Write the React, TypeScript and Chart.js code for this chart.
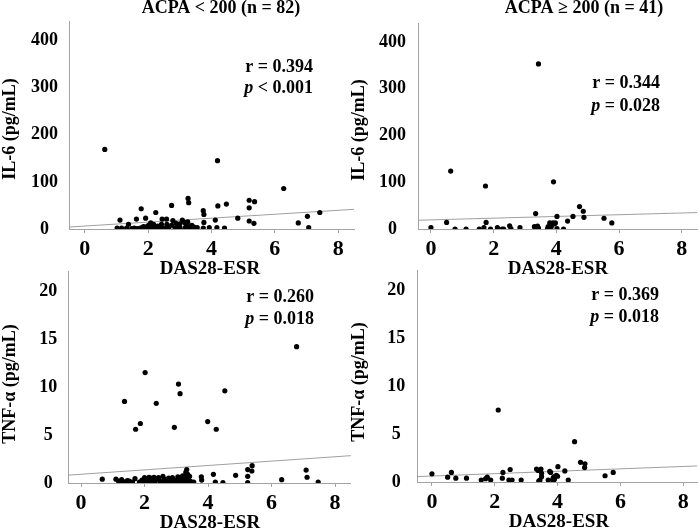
import React, { useEffect, useRef } from "react";
import { Chart, registerables } from "chart.js";

Chart.register(...registerables);

type Pt = [number, number];

// ---- tick labels ----
const xTicks = [0, 2, 4, 6, 8];
const il6Ticks = [0, 100, 200, 300, 400];
const tnfTicks = [0, 5, 10, 15, 20];

// ---- ACPA < 200 (n = 82): DAS28-ESR vs IL-6 ----
const lowIL6: Pt[] = [
  [0.63, 169], [4.19, 145], [6.28, 86], [3.26, 65], [3.28, 56], [2.74, 50], [4.2, 49], [4.47, 53],
  [5.19, 61], [5.36, 58], [5.19, 45], [1.78, 43], [2.24, 35], [3.74, 39], [3.76, 31], [4.83, 23],
  [7.42, 35], [7.03, 27], [6.74, 13], [7.07, 3], [5.19, 17], [5.34, 12], [4.12, 19], [3.76, 14],
  [1.11, 19], [1.38, 10], [1.63, 21], [1.92, 23], [2.44, 21], [2.58, 21], [2.78, 18], [2.88, 12],
  [3.08, 19], [3.15, 14], [3.0, 11], [2.95, 8], [2.74, 8], [2.08, 13], [2.13, 10], [2.17, 10],
  [2.01, 8], [1.97, 5], [1.92, 4], [1.85, 5], [2.42, 10], [2.59, 10],
  [1.02, 2], [1.16, 2], [1.32, 2], [1.48, 1], [1.56, 2], [1.65, 1], [1.79, 2], [1.92, 1],
  [2.16, 2], [2.27, 1], [2.35, 2], [2.42, 1], [2.48, 2], [2.55, 1], [2.85, 2], [2.95, 1],
  [3.16, 2], [3.32, 1], [3.44, 2], [3.51, 1], [3.74, 2], [3.93, 3], [4.17, 3], [4.41, 2],
  [3.3, 5], [3.38, 8], [3.45, 4], [3.25, 15], [1.75, 2], [2.05, 3], [2.22, 2], [3.0, 3],
  [3.2, 6], [2.65, 2], [2.3, 6], [3.55, 3],
];

// ---- ACPA >= 200 (n = 41): DAS28-ESR vs IL-6 ----
const highIL6: Pt[] = [
  [3.43, 353], [0.63, 124], [1.74, 92], [3.91, 101], [3.34, 33], [4.74, 48], [4.86, 38], [4.53, 27],
  [4.88, 25], [4.02, 27], [4.36, 17], [5.52, 23], [5.77, 13], [0.5, 14], [1.76, 14], [0.77, 0],
  [1.12, 0], [1.54, 0], [1.69, 3], [1.9, 0], [2.12, 3], [2.27, 0], [2.32, 0], [2.51, 7],
  [2.55, 1], [2.84, 3], [3.3, 5], [3.33, 1], [3.36, 0], [3.4, 6], [3.43, 2], [3.72, 1],
  [3.74, 5], [3.79, 13], [3.84, 5], [3.89, 13], [3.94, 11], [3.97, 13], [4.02, 1], [4.23, 0],
  [0, 3],
];

// ---- ACPA < 200 (n = 82): DAS28-ESR vs TNF-α ----
const lowTNF: Pt[] = [
  [6.79, 14.2], [2.02, 11.5], [3.07, 10.3], [3.12, 9.3], [4.53, 9.6], [1.37, 8.5], [2.37, 8.3],
  [3.99, 6.4], [1.87, 6.2], [1.72, 5.6], [2.94, 5.8], [4.26, 5.6],
  [0.67, 0.4], [3.33, 1.4], [3.3, 1.1], [3.36, 0.9], [3.42, 0.7], [4.17, 0.9], [4.87, 0.8],
  [5.39, 1.8], [5.25, 1.4], [5.38, 1.25], [5.25, 0.7], [5.25, 0.05], [6.32, 0.35], [7.09, 1.35],
  [7.12, 0.6], [7.47, 0.1], [4.23, 0.1], [4.47, 0.05], [3.79, 0.65], [3.8, 0.3], [3.55, 0.1],
  [1.1, 0.4], [1.18, 0.2], [1.25, 0.1], [1.33, 0.15], [1.42, 0.1], [1.52, 0.2], [1.62, 0.1],
  [1.7, 0.45], [1.84, 0.1], [1.92, 0.3], [1.96, 0.1], [2.02, 0.4], [2.07, 0.2], [2.12, 0.1],
  [2.17, 0.35], [2.21, 0.5], [2.26, 0.2], [2.33, 0.1], [2.38, 0.35], [2.44, 0.55], [2.49, 0.2],
  [2.54, 0.1], [2.62, 0.4], [2.67, 0.2], [2.72, 0.1], [2.8, 0.35], [2.86, 0.1], [2.94, 0.3],
  [3.01, 0.2], [3.08, 0.45], [3.12, 0.1], [3.17, 0.35], [3.22, 0.2], [3.27, 0.6], [3.3, 0.1],
  [3.34, 0.45], [3.38, 0.35], [3.43, 0.2], [3.49, 0.1], [2.3, 0.6], [2.58, 0.7], [2.0, 0.55],
  [1.46, 0.25], [2.88, 0.55], [3.05, 0.65], [2.14, 0.6], [1.28, 0.35], [2.76, 0.5], [3.2, 0.75],
];

// ---- ACPA >= 200 (n = 41): DAS28-ESR vs TNF-α ----
const highTNF: Pt[] = [
  [2.11, 7.5], [4.54, 4.2], [4.73, 2.05], [4.87, 1.9], [4.86, 1.5], [0, 0.85], [0.5, 0.5],
  [0.62, 1.0], [0.76, 0.4], [1.1, 0.4], [1.57, 0.2], [1.71, 0.35], [1.76, 0.5], [1.87, 0.2],
  [2.26, 1.0], [2.24, 0.4], [2.49, 1.3], [2.45, 0.2], [2.55, 0.2], [2.84, 0.2], [3.33, 1.35],
  [3.47, 1.35], [3.49, 0.9], [3.49, 0.55], [3.44, 0.2], [3.75, 1.1], [3.78, 1.0], [3.7, 0.2],
  [3.84, 0.2], [3.9, 0.55], [3.96, 0.7], [3.9, 0.25], [4.01, 1.6], [4.23, 1.15], [4.34, 0.2],
  [5.51, 0.65], [5.77, 1.0], [3.38, 1.2], [3.4, 0.1], [3.86, 0.45], [4.0, 0.6],
];

// ---- regression lines: [intercept, slope] ----
const fitLowIL6 = [6.3, 4.17];
const fitHighIL6 = [19.5, 1.84];
const fitLowTNF = [0.91, 0.228];
const fitHighTNF = [0.62, 0.125];

const FONT = "Liberation Serif";
const AXIS_GRAY = "#a3a3a3";

type PanelCfg = {
  data: Pt[];
  fit: number[];
  yTicks: number[];
  xRange: [number, number];
  yRange: [number, number];
  area: { left: number; top: number; right: number; bottom: number };
  yPad: number;
  title?: string;
  titleX?: number;
  titleY?: number;
  yLabel: string;
  yLabelX: number;
  yLabelY: number;
  xLabelX: number;
  xLabelY: number;
  rText: string;
  pRest: string;
  statRight: number;
  rY: number;
  pY: number;
};

const panels: PanelCfg[] = [
  {
    data: lowIL6, fit: fitLowIL6, yTicks: il6Ticks, xRange: [-0.5, 8.5], yRange: [0, 440],
    area: { left: 69, top: 16.5, right: 354, bottom: 229 }, yPad: 11,
    title: "ACPA < 200 (n = 82)", titleX: 221, titleY: 13,
    yLabel: "IL-6 (pg/mL)", yLabelX: 15, yLabelY: 129, xLabelX: 210, xLabelY: 274,
    rText: "r = 0.394", pRest: " < 0.001", statRight: 313, rY: 72, pY: 93,
  },
  {
    data: highIL6, fit: fitHighIL6, yTicks: il6Ticks, xRange: [-0.4, 8.5], yRange: [0, 440],
    area: { left: 418.4, top: 16.5, right: 698.7, bottom: 229 }, yPad: 12.5,
    title: "ACPA \u2265 200 (n = 41)", titleX: 584, titleY: 13,
    yLabel: "IL-6 (pg/mL)", yLabelX: 364, yLabelY: 130, xLabelX: 558, xLabelY: 274,
    rText: "r = 0.344", pRest: " = 0.028", statRight: 660, rY: 88, pY: 111,
  },
  {
    data: lowTNF, fit: fitLowTNF, yTicks: tnfTicks, xRange: [-0.4, 8.5], yRange: [0, 22],
    area: { left: 68.3, top: 271.8, right: 350.9, bottom: 483 }, yPad: 11,
    yLabel: "TNF-\u03b1 (pg/mL)", yLabelX: 15, yLabelY: 384, xLabelX: 210, xLabelY: 528,
    rText: "r = 0.260", pRest: " = 0.018", statRight: 314, rY: 302, pY: 324,
  },
  {
    data: highTNF, fit: fitHighTNF, yTicks: tnfTicks, xRange: [-0.45, 8.45], yRange: [0, 22],
    area: { left: 417.8, top: 270.8, right: 698.2, bottom: 482 }, yPad: 12.5,
    yLabel: "TNF-\u03b1 (pg/mL)", yLabelX: 364, yLabelY: 382, xLabelX: 559, xLabelY: 527,
    rText: "r = 0.369", pRest: " = 0.018", statRight: 659, rY: 300, pY: 322,
  },
];

const W = 700;
const H = 530;
const Y_AXIS_W = 60;
const X_AXIS_H = 40;

function Panel({ cfg }: { cfg: PanelCfg }) {
  const ref = useRef<HTMLCanvasElement>(null);

  useEffect(() => {
    const canvas = ref.current;
    if (!canvas) return;
    const a = cfg.area;

    const textPlugin = {
      id: "panelText",
      afterDraw(chart: any) {
        const ctx: CanvasRenderingContext2D = chart.ctx;
        const bold = `bold 18px "${FONT}"`;
        const ital = `italic bold 18px "${FONT}"`;
        ctx.save();
        ctx.fillStyle = "#000";
        ctx.font = bold;
        ctx.textBaseline = "alphabetic";
        ctx.textAlign = "center";
        if (cfg.title) ctx.fillText(cfg.title, cfg.titleX!, cfg.titleY!);
        ctx.font = `bold 19px "${FONT}"`;
        ctx.fillText("DAS28-ESR", cfg.xLabelX, cfg.xLabelY);
        ctx.font = bold;
        ctx.save();
        ctx.translate(cfg.yLabelX, cfg.yLabelY);
        ctx.rotate(-Math.PI / 2);
        ctx.fillText(cfg.yLabel, 0, 0);
        ctx.restore();
        ctx.textAlign = "left";
        const rw = ctx.measureText(cfg.rText).width;
        ctx.fillText(cfg.rText, cfg.statRight - rw, cfg.rY);
        ctx.font = ital;
        const pw = ctx.measureText("p").width;
        ctx.font = bold;
        const restW = ctx.measureText(cfg.pRest).width;
        const sx = cfg.statRight - pw - restW;
        ctx.font = ital;
        ctx.fillText("p", sx, cfg.pY);
        ctx.font = bold;
        ctx.fillText(cfg.pRest, sx + pw, cfg.pY);
        ctx.restore();
      },
    };

    const yTickFont = { family: FONT, size: 18, weight: "bold" as const };
    const xTickFont = { family: FONT, size: 22, weight: "bold" as const };

    const chart = new Chart(canvas, {
      type: "scatter",
      data: {
        datasets: [
          {
            data: cfg.data.map(([x, y]) => ({ x, y })),
            backgroundColor: "#000",
            borderColor: "#000",
            borderWidth: 0,
            pointRadius: 2.6,
            pointHoverRadius: 2.6,
          },
          {
            data: cfg.xRange.map((x) => ({ x, y: cfg.fit[0] + cfg.fit[1] * x })),
            showLine: true,
            borderColor: "#a0a0a0",
            borderWidth: 1,
            pointRadius: 0,
            fill: false,
          } as any,
        ],
      },
      options: {
        responsive: false,
        animation: false,
        devicePixelRatio: 1,
        events: [],
        layout: {
          padding: {
            left: a.left - Y_AXIS_W,
            top: a.top,
            right: W - a.right,
            bottom: H - a.bottom - X_AXIS_H,
          },
        },
        plugins: {
          legend: { display: false },
          tooltip: { enabled: false },
          title: { display: false },
        },
        scales: {
          x: {
            type: "linear",
            min: cfg.xRange[0],
            max: cfg.xRange[1],
            afterBuildTicks: (s: any) => {
              s.ticks = xTicks.map((v) => ({ value: v }));
            },
            afterFit: (s: any) => {
              s.height = X_AXIS_H;
            },
            border: { display: true, color: AXIS_GRAY, width: 1 },
            grid: {
              display: true,
              drawOnChartArea: false,
              drawTicks: true,
              tickLength: 4,
              color: AXIS_GRAY,
            },
            ticks: { font: xTickFont, color: "#000", padding: 3, maxRotation: 0, autoSkip: false },
          },
          y: {
            type: "linear",
            min: cfg.yRange[0],
            max: cfg.yRange[1],
            afterBuildTicks: (s: any) => {
              s.ticks = cfg.yTicks.map((v) => ({ value: v }));
            },
            afterFit: (s: any) => {
              s.width = Y_AXIS_W;
            },
            border: { display: true, color: AXIS_GRAY, width: 1 },
            grid: { display: false, drawTicks: false },
            ticks: {
              font: yTickFont,
              color: "#000",
              padding: cfg.yPad,
              crossAlign: "center",
              autoSkip: false,
            },
          },
        },
      },
      plugins: [textPlugin],
    });

    return () => chart.destroy();
  }, [cfg]);

  return (
    <canvas
      ref={ref}
      width={W}
      height={H}
      style={{ position: "absolute", left: 0, top: 0, width: W, height: H }}
    />
  );
}

export default function App() {
  return (
    <div style={{ position: "absolute", left: 0, top: 0, width: W, height: H, background: "#fff" }}>
      {panels.map((p, i) => (
        <Panel key={i} cfg={p} />
      ))}
    </div>
  );
}
